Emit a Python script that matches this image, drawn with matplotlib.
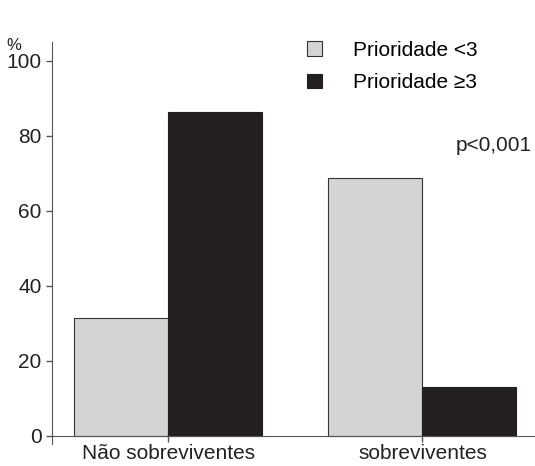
import numpy as np
import matplotlib.pyplot as plt

plt.rcParams['font.family'] = ['Liberation Sans', 'DejaVu Sans']

grupos = ['Não sobreviventes', 'sobreviventes']
prioridade_menor3 = [31.5, 68.8]
prioridade_maior3 = [86.4, 13.1]
yticks = [0, 20, 40, 60, 80, 100]

cinza = '#d3d4d6'
preto = '#231f20'
eixo = '#555555'

fig = plt.figure(figsize=(5.35, 4.66), dpi=100)
ax = fig.add_axes([52 / 535, 22 / 466, 483 / 535, 402 / 466])

x = np.arange(len(grupos))
w = 0.37
ax.bar(x - w / 2, prioridade_menor3, w, color=cinza, edgecolor='#333333', linewidth=0.8,
       label='Prioridade <3')
ax.bar(x + w / 2, prioridade_maior3, w, color=preto, edgecolor=preto, linewidth=0.8,
       label='Prioridade \u22653')

ax.set_xlim(-0.458, 1.443)
ax.set_ylim(-2.2, 105)
ax.set_yticks(yticks)
ax.set_xticks(x)
ax.set_xticklabels(grupos)

for s in ['top', 'right']:
    ax.spines[s].set_visible(False)
ax.spines['bottom'].set_position(('data', 0))
ax.spines['bottom'].set_color(eixo)
ax.spines['left'].set_color(eixo)
ax.tick_params(axis='both', colors=eixo, labelcolor='#222222', labelsize=15, length=4, width=1)
ax.tick_params(axis='x', pad=2)

fig.text(14 / 535, 1 - 45 / 466, '%', fontsize=12, color='#222222', ha='center', va='center')
ax.text(1.43, 77.5, 'p<0,001', ha='right', va='center', fontsize=15, color='#222222')

ax.legend(loc='upper left', bbox_to_anchor=(0.49, 1.05), frameon=False, fontsize=15,
          handlelength=0.7, handleheight=0.7, handletextpad=1.5, labelspacing=0.65)

fig.savefig('out.png', dpi=100)
